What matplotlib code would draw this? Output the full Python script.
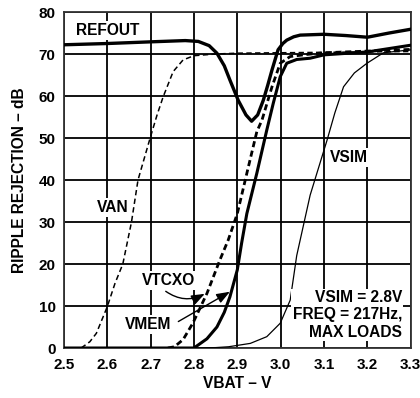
import matplotlib
matplotlib.use("Agg")
import matplotlib.pyplot as plt

plt.rcParams['font.family'] = ['Liberation Sans', 'DejaVu Sans']
plt.rcParams['font.weight'] = 'bold'

x_ticks = [2.5, 2.6, 2.7, 2.8, 2.9, 3.0, 3.1, 3.2, 3.3]
x_tick_labels = ["2.5", "2.6", "2.7", "2.8", "2.9", "3.0", "3.1", "3.2", "3.3"]
y_ticks = [0, 10, 20, 30, 40, 50, 60, 70, 80]

refout_x = [2.5, 2.6, 2.7, 2.78, 2.81, 2.835, 2.853, 2.87, 2.883, 2.902, 2.92, 2.933,
            2.947, 2.96, 2.97, 2.98, 2.994, 3.005, 3.014, 3.03, 3.045, 3.1, 3.15, 3.2, 3.25, 3.3]
refout_y = [72.2, 72.5, 72.9, 73.2, 73.0, 72.0, 70.2, 67.2, 63.8, 59.0, 55.5, 54.0,
            55.5, 59.0, 62.5, 66.2, 71.0, 72.5, 73.3, 74.1, 74.5, 74.7, 74.4, 74.0, 75.0, 75.9]

van_x = [2.54, 2.56, 2.575, 2.6, 2.618, 2.636, 2.656, 2.671, 2.685, 2.699, 2.715, 2.729,
         2.752, 2.775, 2.8, 2.85, 2.9, 3.0, 3.1, 3.2, 3.3]
van_y = [0.0, 1.5, 3.5, 9.8, 15.4, 20.0, 30.0, 40.0, 45.0, 50.0, 55.5, 59.8,
         65.8, 68.6, 69.6, 70.0, 70.2, 70.3, 70.4, 70.5, 70.6]

vtcxo_x = [2.74, 2.755, 2.775, 2.798, 2.83, 2.86, 2.879, 2.9, 2.922, 2.945, 2.957, 2.98,
           2.999, 3.022, 3.06, 3.1, 3.2, 3.3]
vtcxo_y = [0.0, 0.3, 2.0, 6.0, 13.0, 21.0, 25.7, 32.0, 41.6, 51.5, 54.3, 62.2,
           67.8, 69.4, 69.9, 70.3, 70.7, 71.1]

vmem_x = [2.5, 2.8, 2.83, 2.853, 2.87, 2.883, 2.9, 2.91, 2.922, 2.945, 2.968, 2.983,
          2.999, 3.014, 3.037, 3.068, 3.1, 3.2, 3.25, 3.3]
vmem_y = [0.0, 0.0, 2.2, 5.0, 8.5, 12.2, 18.6, 25.0, 32.0, 41.6, 51.9, 58.3,
          64.6, 67.8, 68.7, 69.0, 69.8, 70.5, 71.3, 72.1]

vsim_x = [2.8, 2.85, 2.88, 2.93, 2.968, 2.999, 3.022, 3.037, 3.068, 3.107, 3.125, 3.145,
          3.17, 3.199, 3.237, 3.3]
vsim_y = [0.0, 0.1, 0.3, 1.1, 2.7, 5.9, 11.4, 22.0, 36.4, 49.5, 56.0, 62.2,
          65.5, 67.8, 70.3, 71.0]

fig = plt.figure(figsize=(4.2, 3.98), dpi=100)
ax = fig.add_axes([0.152, 0.1256, 0.826, 0.8442])
ax.set_xlim(2.5, 3.3)
ax.set_ylim(0, 80)
ax.set_xticks(x_ticks)
ax.set_xticklabels(x_tick_labels)
ax.set_yticks(y_ticks)
ax.tick_params(axis='x', length=0, labelsize=11, pad=7)
ax.tick_params(axis='y', length=0, labelsize=11, pad=6)
for lab in ax.get_xticklabels() + ax.get_yticklabels():
    lab.set_fontweight('bold')
ax.grid(True, color='black', lw=1.3)
ax.set_axisbelow(True)
for s in ax.spines.values():
    s.set_linewidth(1.3)
    s.set_color('#333333')

ax.plot(vsim_x, vsim_y, color='black', lw=0.9, zorder=3)
ax.plot(van_x, van_y, color='black', lw=1.1, ls=(0, (3.5, 2.2)), zorder=3)
ax.plot(vtcxo_x, vtcxo_y, color='black', lw=2.0, ls=(0, (2.2, 1.3)), zorder=3)
ax.plot(vmem_x, vmem_y, color='black', lw=2.2, zorder=3)
ax.plot(refout_x, refout_y, color='black', lw=2.4, zorder=3)

fs = 11.2
box = dict(facecolor='white', edgecolor='none', pad=1.5)
ax.text(2.6, 75.7, "REFOUT", ha='center', va='center', fontsize=fs, fontweight='bold', bbox=box, zorder=4)
ax.text(2.612, 33.5, "VAN", ha='center', va='center', fontsize=fs, fontweight='bold', bbox=box, zorder=4)
ax.text(3.158, 45.4, "VSIM", ha='center', va='center', fontsize=fs, fontweight='bold', bbox=box, zorder=4)
ax.text(2.741, 16.0, "VTCXO", ha='center', va='center', fontsize=fs, fontweight='bold', bbox=box, zorder=4)
ax.text(2.695, 5.7, "VMEM", ha='center', va='center', fontsize=fs, fontweight='bold', bbox=box, zorder=4)
ax.text(3.28, 7.9, "VSIM = 2.8V\nFREQ = 217Hz,\nMAX LOADS", ha='right', va='center',
        multialignment='right', fontsize=fs, fontweight='bold', linespacing=1.2,
        bbox=dict(facecolor='white', edgecolor='none', pad=1.0), zorder=4)

ax.annotate("", xy=(2.825, 12.9), xytext=(2.735, 13.5),
            arrowprops=dict(arrowstyle='-|>,head_length=0.8,head_width=0.3', color='black', lw=1.0,
                            connectionstyle='arc3,rad=0.3', shrinkA=0, shrinkB=0), zorder=5)
ax.annotate("", xy=(2.883, 13.4), xytext=(2.764, 6.3),
            arrowprops=dict(arrowstyle='-|>,head_length=0.8,head_width=0.3', color='black', lw=1.0,
                            shrinkA=0, shrinkB=0), zorder=5)

ax.set_xlabel("VBAT – V", fontsize=fs, fontweight='bold', labelpad=3)
ax.set_ylabel("RIPPLE REJECTION – dB", fontsize=fs, fontweight='bold', labelpad=8)

fig.savefig("out.png", dpi=100)
